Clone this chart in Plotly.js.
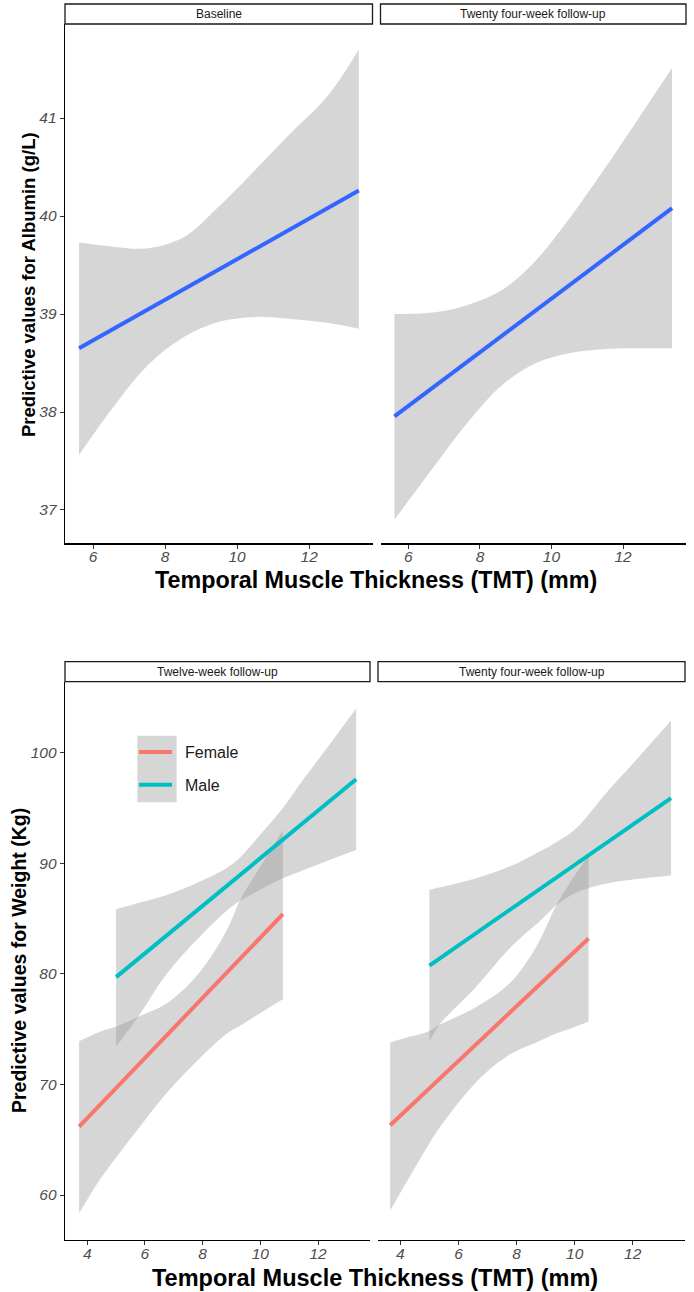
<!DOCTYPE html>
<html>
<head>
<meta charset="utf-8">
<script src="https://cdn.plot.ly/plotly-3.0.1.min.js"></script>
<style>
  html, body { margin: 0; padding: 0; background: #ffffff; }
  #chart { width: 694px; height: 1292px; }
</style>
</head>
<body>
<div id="chart"></div>
<script>
// ---- Albumin (g/L): baseline panel ----
const albBaseLineX = [5.61, 13.38];
const albBaseLineY = [38.65, 40.26];
const albBaseBandX = [5.61, 6.5, 7.5, 8.5, 9.5, 10.5, 11.5, 12.5, 13.38];
const albBaseLower = [37.56, 38.02, 38.47, 38.76, 38.92, 38.97, 38.95, 38.91, 38.85];
const albBaseUpper = [39.73, 39.69, 39.67, 39.78, 40.10, 40.47, 40.85, 41.22, 41.70];

// ---- Albumin (g/L): twenty four-week panel ----
const alb24LineX = [5.61, 13.37];
const alb24LineY = [37.955, 40.08];
const alb24BandX = [5.61, 6.79, 7.72, 8.64, 9.57, 10.49, 11.42, 12.35, 13.37];
const alb24Lower = [36.90, 37.48, 37.92, 38.28, 38.50, 38.60, 38.64, 38.65, 38.65];
const alb24Upper = [39.00, 39.02, 39.10, 39.25, 39.55, 39.97, 40.45, 40.95, 41.51];

// ---- Weight (Kg): twelve-week panel ----
const w12FemaleLineX = [3.72, 10.78];
const w12FemaleLineY = [66.18, 85.4];
const w12FemaleBandX = [3.72, 4.44, 5.0, 5.77, 6.76, 7.91, 8.84, 9.30, 10.0, 10.78];
const w12FemaleLower = [58.35, 61.4, 63.4, 66.0, 69.25, 72.4, 74.6, 75.3, 76.45, 77.7];
const w12FemaleUpper = [73.9, 74.77, 75.23, 76.13, 77.34, 80.2, 83.97, 86.68, 89.7, 93.0];
const w12MaleLineX = [5.0, 13.32];
const w12MaleLineY = [79.7, 97.6];
const w12MaleBandX = [5.0, 5.77, 6.76, 7.91, 9.07, 10.0, 10.78, 11.38, 12.3, 13.32];
const w12MaleLower = [73.42, 76.13, 80.0, 83.37, 86.2, 87.6, 88.64, 89.25, 90.2, 91.2];
const w12MaleUpper = [85.84, 86.4, 87.13, 88.34, 90.0, 92.6, 95.0, 97.2, 100.4, 104.0];

// ---- Weight (Kg): twenty four-week panel ----
const w24FemaleLineX = [3.65, 10.48];
const w24FemaleLineY = [66.3, 83.2];
const w24FemaleBandX = [3.65, 4.31, 4.94, 5.34, 6.61, 7.76, 8.68, 9.37, 10.0, 10.48];
const w24FemaleLower = [58.6, 61.6, 64.4, 66.05, 70.2, 72.7, 73.8, 74.6, 75.2, 75.7];
const w24FemaleUpper = [73.8, 74.3, 74.77, 75.38, 77.0, 79.15, 82.46, 86.2, 88.9, 90.7];
const w24MaleLineX = [5.0, 13.32];
const w24MaleLineY = [80.75, 95.9];
const w24MaleBandX = [5.0, 5.34, 6.61, 7.76, 8.9, 9.37, 10.06, 11.07, 12.24, 13.32];
const w24MaleLower = [73.87, 75.38, 78.84, 82.3, 85.0, 86.2, 87.35, 88.15, 88.6, 88.9];
const w24MaleUpper = [87.6, 87.8, 88.64, 89.7, 91.2, 91.9, 93.16, 96.3, 99.7, 102.9];

// ---- labels and ticks ----
const panelTitlesTop = ["Baseline", "Twenty four-week follow-up"];
const panelTitlesBottom = ["Twelve-week follow-up", "Twenty four-week follow-up"];
const xTitle = "Temporal Muscle Thickness (TMT) (mm)";
const yTitleTop = "Predictive values for Albumin (g/L)";
const yTitleBottom = "Predictive values for Weight (Kg)";
const albTicks = [37, 38, 39, 40, 41];
const albXTicks = [6, 8, 10, 12];
const wtTicks = [60, 70, 80, 90, 100];
const wtXTicks = [4, 6, 8, 10, 12];
const sexNames = ["\u2002Female", "\u2002Male"];

// ---- styling ----
const W = 694, H = 1292;
const px = v => v / W;
const py = v => 1 - v / H;
const BLUE = "#3366FF", FEMALE = "#F8766D", MALE = "#00BFC4";
const RIBBON = "rgba(153,153,153,0.4)";

// confidence ribbon: lower edge, then upper edge filled down to it
function band(x, lo, up, xa, ya) {
  const common = { x: x, mode: "lines", xaxis: xa, yaxis: ya, showlegend: false,
    hoverinfo: "skip", line: { width: 0, shape: "spline", smoothing: 1 } };
  return [
    Object.assign({}, common, { y: lo }),
    Object.assign({}, common, { y: up, fill: "tonexty", fillcolor: RIBBON })
  ];
}
function fit(x, y, color, xa, ya, name, showLegend) {
  return { x: x, y: y, mode: "lines", xaxis: xa, yaxis: ya, name: name,
    legendgroup: name, showlegend: !!showLegend, hoverinfo: "skip",
    line: { color: color, width: 4 } };
}

const data = [].concat(
  band(albBaseBandX, albBaseLower, albBaseUpper, "x", "y"),
  [fit(albBaseLineX, albBaseLineY, BLUE, "x", "y", "fit")],
  band(alb24BandX, alb24Lower, alb24Upper, "x2", "y2"),
  [fit(alb24LineX, alb24LineY, BLUE, "x2", "y2", "fit")],
  band(w12FemaleBandX, w12FemaleLower, w12FemaleUpper, "x3", "y3"),
  band(w12MaleBandX, w12MaleLower, w12MaleUpper, "x3", "y3"),
  [fit(w12FemaleLineX, w12FemaleLineY, FEMALE, "x3", "y3", sexNames[0], true),
   fit(w12MaleLineX, w12MaleLineY, MALE, "x3", "y3", sexNames[1], true)],
  band(w24FemaleBandX, w24FemaleLower, w24FemaleUpper, "x4", "y4"),
  band(w24MaleBandX, w24MaleLower, w24MaleUpper, "x4", "y4"),
  [fit(w24FemaleLineX, w24FemaleLineY, FEMALE, "x4", "y4", sexNames[0]),
   fit(w24MaleLineX, w24MaleLineY, MALE, "x4", "y4", sexNames[1])]
);

const tickFont = { family: "Liberation Sans, Arial, sans-serif", size: 15.5, color: "#4D4D4D", style: "italic" };
function xAxis(domain, anchor, range, ticks) {
  return { domain: domain, anchor: anchor, range: range, tickmode: "array", tickvals: ticks,
    showline: true, linecolor: "#000000", linewidth: 1.3, ticks: "outside", ticklen: 4,
    tickwidth: 1, tickcolor: "#333333", tickfont: tickFont, ticklabelstandoff: -5,
    showgrid: false, zeroline: false, fixedrange: true };
}
function yAxis(domain, anchor, range, ticks, show) {
  return { domain: domain, anchor: anchor, range: range, tickmode: "array", tickvals: ticks,
    showline: show, linecolor: "#000000", linewidth: 1.3, ticks: show ? "outside" : "",
    ticklen: 4, tickwidth: 1, tickcolor: "#333333", showticklabels: show, tickfont: tickFont,
    showgrid: false, zeroline: false, fixedrange: true };
}

const topDom = [py(543.3), py(24)];
const botDom = [py(1240), py(681.7)];
const albX = [5.22, 13.76];
const albY = [36.66, 41.96];
const wtX = [3.23, 13.8];
const wtY = [55.93, 106.42];

function strip(x0, x1, y0, y1) {
  return { type: "rect", xref: "paper", yref: "paper", x0: px(x0), x1: px(x1), y0: py(y1), y1: py(y0),
    line: { color: "#1A1A1A", width: 1.3 }, fillcolor: "#FFFFFF", layer: "above" };
}
function stripText(t, x0, x1, yc) {
  return { text: t, xref: "paper", yref: "paper", x: px((x0 + x1) / 2), y: py(yc),
    xanchor: "center", yanchor: "middle", showarrow: false,
    font: { size: 12, color: "#1A1A1A" } };
}

const layout = {
  width: W, height: H,
  margin: { l: 0, r: 0, t: 0, b: 0, pad: 0 },
  paper_bgcolor: "#FFFFFF", plot_bgcolor: "rgba(0,0,0,0)",
  font: { family: "Liberation Sans, Arial, sans-serif", color: "#000000" },
  xaxis: xAxis([px(65), px(372.5)], "y", albX, albXTicks),
  yaxis: yAxis(topDom, "x", albY, albTicks, true),
  xaxis2: xAxis([px(380.5), px(686)], "y2", albX, albXTicks),
  yaxis2: yAxis(topDom, "x2", albY, albTicks, false),
  xaxis3: xAxis([px(65), px(370)], "y3", wtX, wtXTicks),
  yaxis3: yAxis(botDom, "x3", wtY, wtTicks, true),
  xaxis4: xAxis([px(378), px(685)], "y4", wtX, wtXTicks),
  yaxis4: yAxis(botDom, "x4", wtY, wtTicks, false),
  showlegend: true,
  legend: { x: px(134), xanchor: "left", y: py(735), yanchor: "top",
    bgcolor: "rgba(0,0,0,0)", borderwidth: 0, itemwidth: 33, tracegroupgap: 9,
    font: { size: 16, color: "#1A1A1A" } },
  shapes: [
    strip(65, 372.5, 4, 24), strip(380.5, 686, 4, 24),
    strip(65, 370, 661.7, 681.7), strip(378, 685, 661.7, 681.7),
    { type: "rect", xref: "paper", yref: "paper", x0: px(137.3), x1: px(176.7),
      y0: py(802.3), y1: py(735.7), line: { width: 0 }, fillcolor: RIBBON, layer: "above" }
  ],
  annotations: [
    stripText(panelTitlesTop[0], 65, 372.5, 14),
    stripText(panelTitlesTop[1], 380.5, 686, 14),
    stripText(panelTitlesBottom[0], 65, 370, 671.7),
    stripText(panelTitlesBottom[1], 378, 685, 671.7),
    { text: "<b>" + xTitle + "</b>", xref: "paper", yref: "paper", x: px(376), y: py(580),
      xanchor: "center", yanchor: "middle", showarrow: false, font: { size: 23.3, color: "#000000" } },
    { text: "<b>" + xTitle + "</b>", xref: "paper", yref: "paper", x: px(374.5), y: py(1278),
      xanchor: "center", yanchor: "middle", showarrow: false, font: { size: 23.5, color: "#000000" } },
    { text: "<b>" + yTitleTop + "</b>", xref: "paper", yref: "paper", x: px(28), y: py(285),
      xanchor: "center", yanchor: "middle", textangle: -90, showarrow: false,
      font: { size: 18.5, color: "#000000" } },
    { text: "<b>" + yTitleBottom + "</b>", xref: "paper", yref: "paper", x: px(19), y: py(961),
      xanchor: "center", yanchor: "middle", textangle: -90, showarrow: false,
      font: { size: 19.5, color: "#000000" } }
  ]
};

Plotly.newPlot("chart", data, layout, { staticPlot: true, displayModeBar: false });
</script>
</body>
</html>
